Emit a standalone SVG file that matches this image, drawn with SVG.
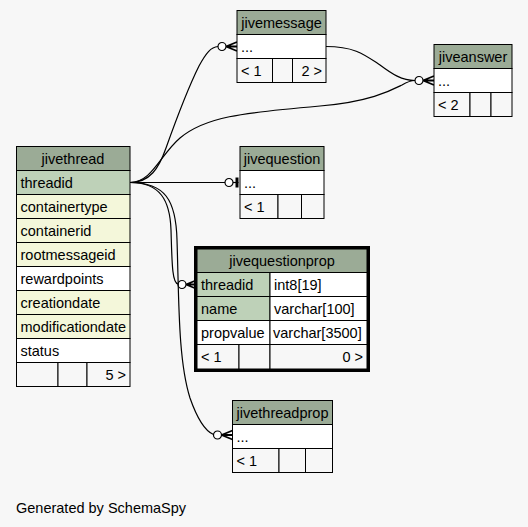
<svg xmlns="http://www.w3.org/2000/svg" width="528" height="527" viewBox="0 0 528 527">
<style>
rect{stroke:#000;stroke-width:1}
.hdr{fill:#9bab96}.pk{fill:#bed1b8}.idx{fill:#f4f7da}.pl{fill:#fff}.ft{fill:#f7f7f7}
text{font-family:"Liberation Sans",Arial,sans-serif;font-size:14.5px;fill:#000}
.c{text-anchor:middle}.r{text-anchor:end}
.edge{fill:none;stroke:#000;stroke-width:1.2}
</style>
<defs>
<g id="crowodot">
<path d="M-11,0 L0,-4.5 M-11,0 L0,0 M-11,0 L0,4.5" fill="none" stroke="#000" stroke-width="1.8"/>
<circle cx="-15" cy="0" r="4" fill="#fff" stroke="#000" stroke-width="1.2"/>
</g>
<g id="teeodot">
<path d="M-3,-5 L-3,5" stroke="#000" stroke-width="3"/>
<path d="M-7,0 L-1.5,0" stroke="#000" stroke-width="1.2"/>
<circle cx="-11" cy="0" r="4" fill="#fff" stroke="#000" stroke-width="1.2"/>
</g>
</defs>
<rect x="0" y="0" width="528" height="527" style="fill:#f7f7f7;stroke:none"/>

<g id="connectors">
<path class="edge" d="M130,182.5 C150,182.5 159,168 166,148 C176,120 188,88 199,66 C206,53 211,47 218,46.5"/>
<use href="#crowodot" x="237" y="46.5"/>
<path class="edge" d="M130,182.5 C152,182.5 160,155 180,138 C205,117 240,113 320,106 C370,102 392,90 402,85 C407,82 411,80.5 415,80.5"/>
<path class="edge" d="M326,46.5 C355,46.5 365,55 380,65 C392,74 402,80.5 415,80.5"/>
<use href="#crowodot" x="434" y="80.5"/>
<path class="edge" d="M130,182.5 L225,182.5"/>
<use href="#teeodot" x="240" y="182.5"/>
<path class="edge" d="M130,182.5 C160,182.5 170,200 171,230 C172,262 172,283 178,284"/>
<use href="#crowodot" x="197" y="284.5"/>
<path class="edge" d="M130,182.5 C165,182.5 176,200 177,240 C179,300 178,360 190,398 C197,418 205,431 213.5,434.5"/>
<use href="#crowodot" x="232.5" y="435"/>
</g>

<g id="jivethread">
<rect class="hdr" x="16.5" y="146.5" width="113.5" height="24"/>
<text class="c" x="73" y="163.5">jivethread</text>
<rect class="pk" x="16.5" y="170.5" width="113.5" height="24"/>
<text x="20.5" y="187.5">threadid</text>
<rect class="idx" x="16.5" y="194.5" width="113.5" height="24"/>
<text x="20.5" y="211.5">containertype</text>
<rect class="idx" x="16.5" y="218.5" width="113.5" height="24"/>
<text x="20.5" y="235.5">containerid</text>
<rect class="idx" x="16.5" y="242.5" width="113.5" height="24"/>
<text x="20.5" y="259.5">rootmessageid</text>
<rect class="pl" x="16.5" y="266.5" width="113.5" height="24"/>
<text x="20.5" y="283.5">rewardpoints</text>
<rect class="idx" x="16.5" y="290.5" width="113.5" height="24"/>
<text x="20.5" y="307.5">creationdate</text>
<rect class="idx" x="16.5" y="314.5" width="113.5" height="24"/>
<text x="20.5" y="331.5">modificationdate</text>
<rect class="pl" x="16.5" y="338.5" width="113.5" height="24"/>
<text x="20.5" y="355.5">status</text>
<rect class="ft" x="16.5" y="362.5" width="41.5" height="24"/>
<rect class="ft" x="58" y="362.5" width="29" height="24"/>
<rect class="ft" x="87" y="362.5" width="43" height="24"/>
<text class="r" x="126" y="379.5">5 &gt;</text>
</g>

<g id="jivemessage">
<rect class="hdr" x="237" y="10.5" width="89" height="24"/>
<text class="c" x="281.5" y="27.5">jivemessage</text>
<rect class="pl" x="237" y="34.5" width="89" height="24"/>
<text x="241" y="51.5">...</text>
<rect class="ft" x="237" y="58.5" width="35.5" height="24"/>
<rect class="ft" x="272.5" y="58.5" width="20" height="24"/>
<rect class="ft" x="292.5" y="58.5" width="33.5" height="24"/>
<text x="241" y="75.5">&lt; 1</text>
<text class="r" x="322" y="75.5">2 &gt;</text>
</g>

<g id="jiveanswer">
<rect class="hdr" x="434" y="44.5" width="78" height="24"/>
<text class="c" x="473" y="61.5">jiveanswer</text>
<rect class="pl" x="434" y="68.5" width="78" height="24"/>
<text x="438" y="85.5">...</text>
<rect class="ft" x="434" y="92.5" width="36" height="24"/>
<rect class="ft" x="470" y="92.5" width="21" height="24"/>
<rect class="ft" x="491" y="92.5" width="21" height="24"/>
<text x="438" y="109.5">&lt; 2</text>
</g>

<g id="jivequestion">
<rect class="hdr" x="240" y="146.5" width="84" height="24"/>
<text class="c" x="282" y="163.5">jivequestion</text>
<rect class="pl" x="240" y="170.5" width="84" height="24"/>
<text x="244" y="187.5">...</text>
<rect class="ft" x="240" y="194.5" width="38" height="24"/>
<rect class="ft" x="278" y="194.5" width="23.5" height="24"/>
<rect class="ft" x="301.5" y="194.5" width="22.5" height="24"/>
<text x="244" y="211.5">&lt; 1</text>
</g>

<g id="jivequestionprop">
<rect x="195.5" y="247.5" width="173" height="123" style="fill:none;stroke-width:3"/>
<rect class="hdr" x="197" y="249" width="170" height="23.5"/>
<text class="c" x="282" y="265.5">jivequestionprop</text>
<rect class="pk" x="197" y="272.5" width="73" height="24"/>
<rect class="pl" x="270" y="272.5" width="97" height="24"/>
<text x="201" y="289.5">threadid</text>
<text x="274" y="289.5">int8[19]</text>
<rect class="pk" x="197" y="296.5" width="73" height="24"/>
<rect class="pl" x="270" y="296.5" width="97" height="24"/>
<text x="201" y="313.5">name</text>
<text x="274" y="313.5">varchar[100]</text>
<rect class="pl" x="197" y="320.5" width="73" height="24"/>
<rect class="pl" x="270" y="320.5" width="97" height="24"/>
<text x="201" y="337.5">propvalue</text>
<text x="273" y="337.5">varchar[3500]</text>
<rect class="ft" x="197" y="344.5" width="42" height="24.5"/>
<rect class="ft" x="239" y="344.5" width="31" height="24.5"/>
<rect class="ft" x="270" y="344.5" width="97" height="24.5"/>
<text x="201" y="361.5">&lt; 1</text>
<text class="r" x="363" y="361.5">0 &gt;</text>
</g>

<g id="jivethreadprop">
<rect class="hdr" x="232.5" y="400.5" width="100" height="24"/>
<text class="c" x="282.5" y="417.5">jivethreadprop</text>
<rect class="pl" x="232.5" y="424.5" width="100" height="24"/>
<text x="236.5" y="441.5">...</text>
<rect class="ft" x="232.5" y="448.5" width="46.5" height="24"/>
<rect class="ft" x="279" y="448.5" width="26.5" height="24"/>
<rect class="ft" x="305.5" y="448.5" width="27" height="24"/>
<text x="236.5" y="465.5">&lt; 1</text>
</g>

<text x="16" y="513">Generated by SchemaSpy</text>
</svg>
